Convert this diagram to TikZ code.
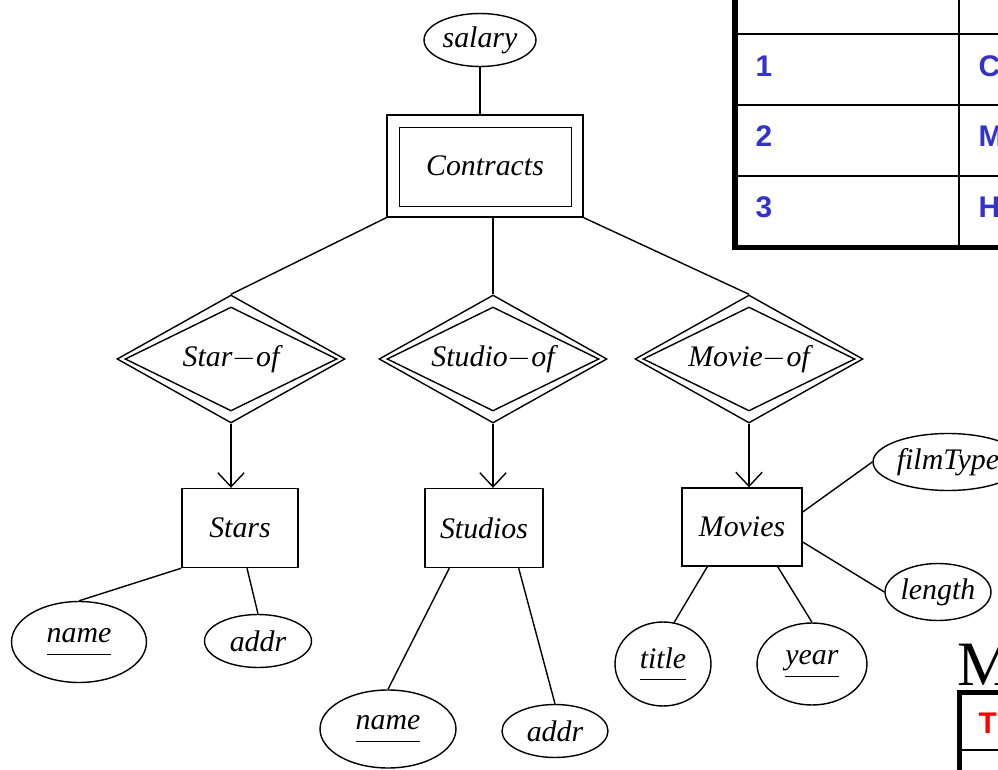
\documentclass[tikz,border=0pt]{standalone}
\usepackage{fontspec}
\setmainfont{Liberation Serif}
\setsansfont{Liberation Sans}
\usetikzlibrary{arrows.meta,positioning,calc,shapes.geometric}
\definecolor{cellblue}{RGB}{51,51,204}
\newcommand{\keyattr}[1]{\underline{#1\rule[-5pt]{0pt}{5pt}}}

\begin{document}
\begin{tikzpicture}[x=0.02cm, y=-0.02cm, line width=0.8pt,
    font=\fontsize{17}{20}\selectfont\itshape,
    entity/.style={draw, rectangle, inner sep=0pt, minimum width=2.32cm, minimum height=1.58cm},
    attr/.style={draw, ellipse, inner sep=0pt},
    relout/.style={draw, diamond, aspect=1.8, inner sep=0pt, minimum width=4.56cm, minimum height=2.56cm},
    relin/.style={draw, diamond, aspect=2.04, inner sep=0pt, minimum width=4.24cm, minimum height=2.08cm},
    isa/.style={-{Straight Barb[length=8pt,width=15pt]}},
    cell/.style={font=\fontsize{17}{20}\selectfont\sffamily\bfseries, text=cellblue, anchor=base west, inner sep=0pt}]
    \useasboundingbox (0,0) rectangle (998,770);
    \clip (0,0) rectangle (998,770);

    % Contracts with salary
    \node[draw, inner sep=0pt, minimum width=3.92cm, minimum height=2.04cm] (contracts) at (485,166) {Contracts};
    \draw ([shift={(0.26cm,0.22cm)}]contracts.south west) rectangle ([shift={(-0.24cm,-0.26cm)}]contracts.north east);
    \node[attr, minimum width=2.24cm, minimum height=1.06cm] (salary) at (480,40) {salary};
    \draw (salary.south) -- (salary.south |- contracts.north);

    % Supporting relationships
    \node[relout] (starof) at (231,359) {};
    \node[relin] (starofin) at (starof) {Star$-$of};
    \node[relout] (studioof) at (493,359) {};
    \node[relin] (studioofin) at (studioof) {Studio$-$of};
    \node[relout] (movieof) at (749,359) {};
    \node[relin] (movieofin) at (movieof) {Movie$-$of};
    \draw (contracts.south west) -- (starof.north);
    \draw (studioof.north |- contracts.south) -- (studioof.north);
    \draw (contracts.south east) -- (movieof.north);

    % Entity sets
    \node[entity] (stars) at (240,528) {Stars};
    \node[entity, minimum width=2.36cm] (studios) at (484,528) {Studios};
    \node[entity, minimum width=2.4cm, minimum height=1.56cm] (movies) at (742,527) {Movies};
    \draw[isa] (starof.south) -- (starof.south |- stars.north);
    \draw[isa] (studioof.south) -- (studioof.south |- studios.north);
    \draw[isa] (movieof.south) -- (movieof.south |- movies.north);

    % Attributes
    \node[attr, minimum width=2.7cm, minimum height=1.62cm] (starname) at (79,642) {\keyattr{name}};
    \node[attr, minimum width=2.14cm, minimum height=1.06cm] (staraddr) at (258,641) {addr};
    \node[attr, minimum width=2.72cm, minimum height=1.56cm] (studname) at (388,729) {\keyattr{name}};
    \node[attr, minimum width=2.12cm, minimum height=1.06cm] (studaddr) at (555,731) {addr};
    \node[attr, minimum width=1.92cm, minimum height=1.68cm] (movtitle) at (663,664) {\keyattr{title}};
    \node[attr, minimum width=2.2cm, minimum height=1.64cm] (movyear) at (812,664) {\keyattr{year}};
    \node[attr, minimum width=3cm, minimum height=1.14cm] (filmtype) at (948,462) {filmType};
    \node[attr, minimum width=2.12cm, minimum height=1.14cm] (movlength) at (938,592) {length};
    \draw (stars.south west) -- (starname.north);
    \draw ([xshift=0.14cm]stars.south) -- (staraddr.north);
    \draw ([xshift=0.5cm]studios.south west) -- (studname.north);
    \draw ([xshift=-0.5cm]studios.south east) -- (studaddr.north);
    \draw ([xshift=0.52cm]movies.south west) -- (movtitle.75);
    \draw ([xshift=-0.5cm]movies.south east) -- (movyear.north);
    \draw ([yshift=0.3cm]movies.east) -- (filmtype.west);
    \draw ([yshift=-0.3cm]movies.east) -- (movlength.west);

    % Table, top right
    \begin{scope}
      \foreach \y in {34,105,176}
        \draw[line width=1.6pt] (735,\y) -- (1010,\y);
      \draw[line width=1.6pt] (959,-10) -- (959,247);
      \draw[line width=2.9pt] (735,-10) -- (735,247.5) -- (1010,247.5);
      \foreach \n/\y in {1/77,2/147,3/218}
        \node[cell] (num\n) at (755,\y) {\n};
      \foreach \t/\y in {C/77,M/147,H/218}
        \node[cell] (word\t) at (978,\y) {\t};
    \end{scope}

    % Table, bottom right
    \begin{scope}
      \node[font=\fontsize{36}{40}\selectfont, anchor=base west, inner sep=0pt] (mtitle) at (957,685) {M};
      \draw[line width=2.9pt] (959.5,790) -- (959.5,692.5) -- (1010,692.5);
      \draw[line width=1.2pt] (959.5,750) -- (1010,750);
      \node[cell, text=red] (hdrT) at (978,733) {T};
    \end{scope}
  \end{tikzpicture}
\end{document}
